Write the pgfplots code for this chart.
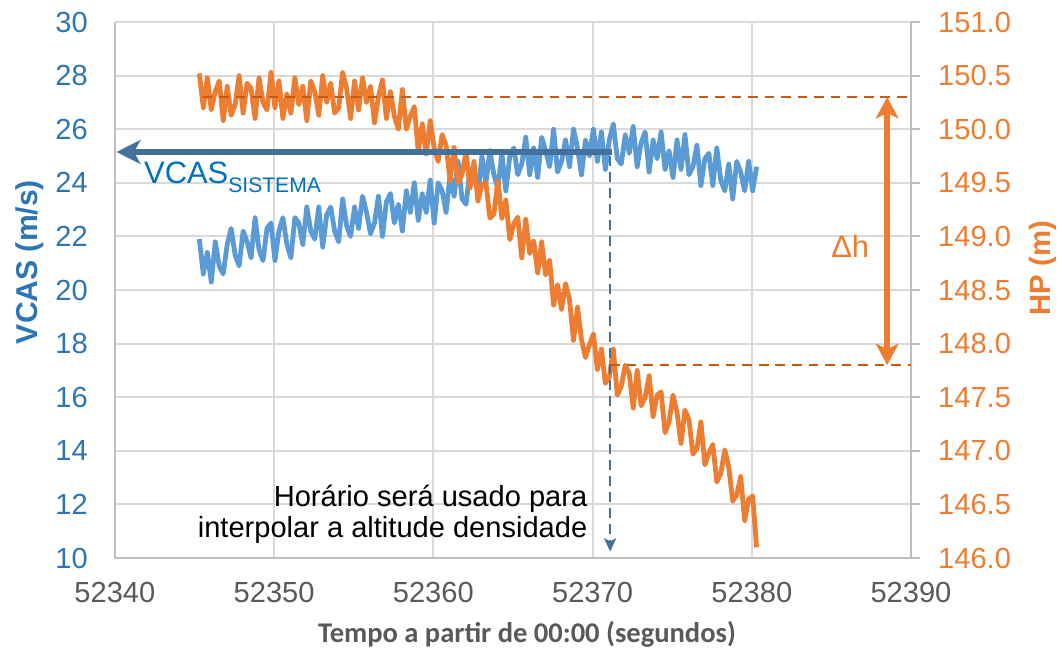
\documentclass[border=0pt]{standalone}
\usepackage{fontspec}
\setmainfont{Liberation Sans}
\newfontfamily\carlito{Carlito}
\usepackage{pgfplots}
\usepackage{pgfplotstable}
\pgfplotsset{compat=1.18}
\usetikzlibrary{arrows.meta}

\definecolor{vblue}{RGB}{91,155,213}
\definecolor{horange}{RGB}{237,125,49}
\definecolor{darrow}{RGB}{65,113,156}
\definecolor{dorange}{RGB}{197,90,17}
\definecolor{tickblue}{RGB}{46,117,182}
\definecolor{txtblue}{RGB}{0,112,192}
\definecolor{txtgray}{RGB}{89,89,89}
\definecolor{gridgray}{RGB}{217,217,217}
\definecolor{axisgray}{RGB}{191,191,191}

% VCAS (m/s)
\pgfplotstableread{
t v
52345.30 21.9
52345.55 20.6
52345.80 21.4
52346.05 20.3
52346.30 21.8
52346.55 20.9
52346.80 20.6
52347.05 21.7
52347.30 22.3
52347.55 21.3
52347.80 20.9
52348.05 22.2
52348.30 21.8
52348.55 21.2
52348.80 22.7
52349.05 21.5
52349.30 21.1
52349.55 22.3
52349.80 22.5
52350.05 21.1
52350.30 22.2
52350.55 22.7
52350.80 21.7
52351.05 21.2
52351.30 22.7
52351.55 22.5
52351.80 21.7
52352.05 23.1
52352.30 22.2
52352.55 21.9
52352.80 23.1
52353.05 21.6
52353.30 22.8
52353.55 23.1
52353.80 22.2
52354.05 21.8
52354.30 23.4
52354.55 22.4
52354.80 22.0
52355.05 23.1
52355.30 22.3
52355.55 23.5
52355.80 22.9
52356.05 22.1
52356.30 22.5
52356.55 23.5
52356.80 22.0
52357.05 23.3
52357.30 23.6
52357.55 22.5
52357.80 23.2
52358.05 22.2
52358.30 23.7
52358.55 22.9
52358.80 24.0
52359.05 22.6
52359.30 23.6
52359.55 22.9
52359.80 24.1
52360.05 22.5
52360.30 24.0
52360.55 23.7
52360.80 22.9
52361.05 24.3
52361.30 23.5
52361.55 24.8
52361.80 23.4
52362.05 23.2
52362.30 24.5
52362.55 24.4
52362.80 23.6
52363.05 25.0
52363.30 24.0
52363.55 25.2
52363.80 24.3
52364.05 23.8
52364.30 25.1
52364.55 23.7
52364.80 25.0
52365.05 25.3
52365.30 24.3
52365.55 24.7
52365.80 25.7
52366.05 24.3
52366.30 25.3
52366.55 24.2
52366.80 25.7
52367.05 25.2
52367.30 24.6
52367.55 26.0
52367.80 24.4
52368.05 24.8
52368.30 25.6
52368.55 24.6
52368.80 26.0
52369.05 25.3
52369.30 24.3
52369.55 25.6
52369.80 25.0
52370.05 26.0
52370.30 24.8
52370.55 25.9
52370.80 24.5
52371.05 25.6
52371.30 26.2
52371.55 24.9
52371.80 24.7
52372.05 25.8
52372.30 25.1
52372.55 26.1
52372.80 24.6
52373.05 25.5
52373.30 25.9
52373.55 24.4
52373.80 25.6
52374.05 24.9
52374.30 25.9
52374.55 24.5
52374.80 25.2
52375.05 24.2
52375.30 25.6
52375.55 24.5
52375.80 25.8
52376.05 24.3
52376.30 24.6
52376.55 25.4
52376.80 23.9
52377.05 24.9
52377.30 25.1
52377.55 23.9
52377.80 25.3
52378.05 24.1
52378.30 23.7
52378.55 24.7
52378.80 23.4
52379.05 24.8
52379.30 24.4
52379.55 23.7
52379.80 24.8
52380.05 23.7
52380.30 24.6
}\vcasdata

% HP (m)
\pgfplotstableread{
t h
52345.30 150.52
52345.55 150.20
52345.80 150.48
52346.05 150.18
52346.30 150.35
52346.55 150.45
52346.80 150.08
52347.05 150.40
52347.30 150.13
52347.55 150.23
52347.80 150.50
52348.05 150.15
52348.30 150.43
52348.55 150.38
52348.80 150.10
52349.05 150.48
52349.30 150.25
52349.55 150.18
52349.80 150.53
52350.05 150.20
52350.30 150.45
52350.55 150.10
52350.80 150.33
52351.05 150.15
52351.30 150.48
52351.55 150.23
52351.80 150.40
52352.05 150.08
52352.30 150.45
52352.55 150.35
52352.80 150.13
52353.05 150.50
52353.30 150.25
52353.55 150.43
52353.80 150.15
52354.05 150.20
52354.30 150.53
52354.55 150.38
52354.80 150.10
52355.05 150.45
52355.30 150.18
52355.55 150.48
52355.80 150.25
52356.05 150.40
52356.30 150.06
52356.55 150.30
52356.80 150.46
52357.05 150.10
52357.30 150.35
52357.55 150.12
52357.80 150.00
52358.05 150.37
52358.30 150.00
52358.55 150.12
52358.80 150.21
52359.05 149.79
52359.30 150.05
52359.55 149.77
52359.80 150.08
52360.05 149.82
52360.30 149.70
52360.55 149.95
52360.80 149.85
52361.05 149.52
52361.30 149.83
52361.55 149.50
52361.80 149.58
52362.05 149.79
52362.30 149.45
52362.55 149.70
52362.80 149.33
52363.05 149.49
52363.30 149.50
52363.55 149.17
52363.80 149.21
52364.05 149.52
52364.30 149.17
52364.55 149.34
52364.80 148.97
52365.05 149.12
52365.30 149.18
52365.55 148.80
52365.80 149.16
52366.05 148.84
52366.30 148.96
52366.55 148.66
52366.80 148.95
52367.05 148.64
52367.30 148.78
52367.55 148.36
52367.80 148.55
52368.05 148.32
52368.30 148.56
52368.55 148.41
52368.80 148.03
52369.05 148.34
52369.30 148.04
52369.55 147.87
52369.80 147.99
52370.05 148.09
52370.30 147.76
52370.55 147.95
52370.80 147.63
52371.05 147.69
52371.30 147.95
52371.55 147.52
52371.80 147.60
52372.05 147.80
52372.30 147.72
52372.55 147.40
52372.80 147.75
52373.05 147.42
52373.30 147.50
52373.55 147.70
52373.80 147.32
52374.05 147.52
52374.30 147.55
52374.55 147.17
52374.80 147.27
52375.05 147.52
52375.30 147.36
52375.55 147.07
52375.80 147.38
52376.05 147.29
52376.30 146.97
52376.55 147.02
52376.80 147.27
52377.05 146.87
52377.30 146.98
52377.55 147.06
52377.80 146.71
52378.05 146.79
52378.30 147.01
52378.55 146.85
52378.80 146.53
52379.05 146.59
52379.30 146.76
52379.55 146.35
52379.80 146.55
52380.05 146.58
52380.30 146.10
}\hpdata

\begin{document}
\begin{tikzpicture}
\useasboundingbox (-43.1pt,-34.9pt) rectangle (355.1pt,209.25pt);

% left axis: VCAS
\begin{axis}[
    width=298.5pt, height=201pt, scale only axis,
    xmin=52340, xmax=52390,
    ymin=10, ymax=30,
    xtick distance=10, ytick distance=2,
    scaled x ticks=false,
    axis x line*=bottom, axis y line*=left,
    axis line style={draw=axisgray, line width=0.75pt, -},
    grid=major,
    major grid style={draw=gridgray, line width=0.75pt},
    major tick length=0pt,
    tick style={draw=none},
    tick label style={font=\fontsize{10.9}{13}\selectfont, inner sep=0pt},
    yticklabel style={text=tickblue, anchor=east, xshift=-10pt},
    xticklabel style={text=txtgray, anchor=north, yshift=-9pt,
        /pgf/number format/.cd, fixed, precision=0, 1000 sep={}},
    /pgf/number format/1000 sep={},
    /pgf/number format/assume math mode=true,
]
\addplot[vblue, line width=1.8pt, line join=round] table[x=t, y=v] {\vcasdata};
\end{axis}

% right axis: HP
\begin{axis}[
    width=298.5pt, height=201pt, scale only axis,
    xmin=52340, xmax=52390,
    ymin=146, ymax=151,
    axis x line=none, axis y line*=right,
    ytick distance=0.5,
    y axis line style={draw=axisgray, line width=0.75pt, -},
    tick align=outside, major tick length=3.4pt,
    ytick style={draw=axisgray, line width=0.75pt},
    yticklabel style={font=\fontsize{10.9}{13}\selectfont, inner sep=0pt,
        text=horange, anchor=west, xshift=6.6pt,
        /pgf/number format/.cd, fixed, fixed zerofill, precision=1},
    /pgf/number format/assume math mode=true,
    clip=false,
]
\addplot[horange, line width=1.8pt, line join=round] table[x=t, y=h] {\hpdata};

% reference levels
\draw[dorange, line width=0.9pt, dash pattern=on 3.6pt off 2.6pt]
    (axis cs:52345.5,150.3) -- (axis cs:52390,150.3);
\draw[dorange, line width=0.9pt, dash pattern=on 3.6pt off 2.6pt]
    (axis cs:52371.1,147.8) -- (axis cs:52390,147.8);
\draw[horange, line width=2.2pt,
      {Stealth[length=8pt,width=8.5pt,inset=2pt]}-{Stealth[length=8pt,width=8.5pt,inset=2pt]}]
    (axis cs:52388.5,150.3) -- (axis cs:52388.5,147.8);
\node[anchor=base east, inner sep=0pt, text=horange, font=\fontsize{11.6}{14}\selectfont]
    at (axis cs:52387.4,148.80) {Δh};

% VCAS_SISTEMA arrow (VCAS v -> HP 146+(v-10)/4)
\draw[darrow, line width=1pt, dash pattern=on 3.6pt off 2.4pt,
      -{Stealth[length=5pt,width=4.5pt,inset=1.2pt]}]
    (axis cs:52371.1,149.75) -- (axis cs:52371.1,146.06);
\draw[darrow, line width=2.6pt, -{Stealth[length=9pt,width=9pt,inset=2.5pt]}]
    (axis cs:52371.2,149.7875) -- (axis cs:52340.1,149.7875);
\node[anchor=base west, inner sep=0pt, text=txtblue]
    at (axis cs:52341.8,149.4975)
    {\fontsize{11.6}{14}\selectfont VCAS\raisebox{-3.6pt}{\fontsize{7.9}{9}\selectfont SISTEMA}};
\node[anchor=base east, inner sep=0pt, font=\fontsize{10.9}{13}\selectfont]
    at (axis cs:52369.7,146.485) {Horário será usado para};
\node[anchor=base east, inner sep=0pt, font=\fontsize{10.9}{13}\selectfont]
    at (axis cs:52369.7,146.19) {interpolar a altitude densidade};
\end{axis}

% axis titles
\node[rotate=90, text=tickblue, font=\fontsize{11.3}{13}\selectfont\bfseries]
    at (-31.9pt,111pt) {VCAS (m/s)};
\node[rotate=90, text=horange, font=\fontsize{11}{13}\selectfont\bfseries]
    at (348pt,108.75pt) {HP (m)};
\node[text=txtgray, font=\carlito\fontsize{10.7}{13}\selectfont\bfseries]
    at (154.5pt,-28.5pt) {Tempo a partir de 00:00 (segundos)};
\end{tikzpicture}
\end{document}
